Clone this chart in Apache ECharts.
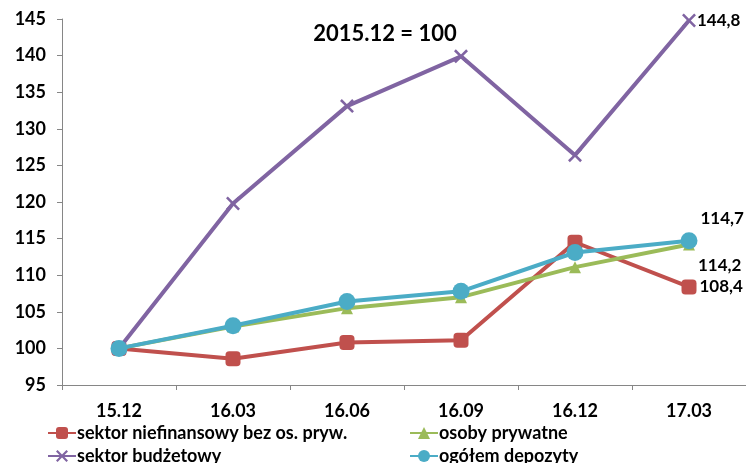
<!DOCTYPE html>
<html>
<head>
<meta charset="utf-8">
<script src="https://cdn.jsdelivr.net/npm/echarts@6/dist/echarts.min.js"></script>
<style>
  html, body { margin: 0; padding: 0; background: #fff; }
  #chart { width: 746px; height: 463px; }
</style>
</head>
<body>
<div id="chart"></div>
<script>
// Quarterly deposit indices, 2015.12 = 100
const categories = ['15.12', '16.03', '16.06', '16.09', '16.12', '17.03'];
const niefinansowy = [100, 98.6, 100.8, 101.1, 114.5, 108.4];
const prywatne = [100, 103.0, 105.5, 107.0, 111.1, 114.2];
const budzetowy = [100, 119.8, 133.1, 139.9, 126.4, 144.8];
const ogolem = [100, 103.1, 106.4, 107.8, 113.1, 114.7];
const yTicks = { min: 95, max: 145, step: 5 };

const FONT = 'Lato, "Open Sans", sans-serif';
const xShape = 'path://M0,1.3 L1.3,0 L5,3.7 L8.7,0 L10,1.3 L6.3,5 L10,8.7 L8.7,10 L5,6.3 L1.3,10 L0,8.7 L3.7,5 Z';

const fmt = v => String(v.toFixed(1)).replace('.', ',');

// Put a value label on the final point of a series
function withEndLabel(values, labelOpts) {
  return values.map((v, i) => i === values.length - 1
    ? { value: v, label: Object.assign({
        show: true, formatter: p => fmt(p.value),
        color: '#000', fontFamily: FONT, fontWeight: 'bold', fontSize: 17
      }, labelOpts) }
    : v);
}

const chart = echarts.init(document.getElementById('chart'));
chart.setOption({
  animation: false,
  textStyle: { fontFamily: FONT },
  title: {
    text: '2015.12 = 100',
    left: 380, top: 18, textAlign: 'center',
    textStyle: { fontFamily: FONT, fontWeight: 'bold', fontSize: 22, color: '#000' }
  },
  grid: { left: 62, right: 0, top: 19, bottom: 78, containLabel: false },
  xAxis: {
    type: 'category',
    data: categories,
    boundaryGap: true,
    axisLine: { lineStyle: { color: '#868686', width: 1 } },
    axisTick: { show: true, length: 5, lineStyle: { color: '#868686' } },
    axisLabel: { color: '#000', fontFamily: FONT, fontWeight: 'bold', fontSize: 18, margin: 17 }
  },
  yAxis: {
    type: 'value',
    min: yTicks.min, max: yTicks.max, interval: yTicks.step,
    splitLine: { show: false },
    axisLine: { show: true, lineStyle: { color: '#868686', width: 1 } },
    axisTick: { show: true, length: 5, lineStyle: { color: '#868686' } },
    axisLabel: { color: '#000', fontFamily: FONT, fontWeight: 'bold', fontSize: 18, margin: 16 }
  },
  legend: [
    { left: 42, top: 419, data: ['sektor niefinansowy bez os. pryw.'] },
    { left: 404, top: 419, data: ['osoby prywatne'] },
    { left: 42, top: 442, data: ['sektor budżetowy'] },
    { left: 404, top: 442, data: ['ogółem depozyty'] }
  ].map(l => Object.assign({
    orient: 'horizontal', itemWidth: 28, itemHeight: 15, itemGap: 2,
    textStyle: { color: '#000', fontFamily: FONT, fontWeight: 'bold', fontSize: 18, padding: [0, 0, 0, -4] }
  }, l)),
  series: [
    {
      name: 'sektor niefinansowy bez os. pryw.', type: 'line',
      data: withEndLabel(niefinansowy, { position: 'right', distance: 3 }),
      color: '#C0504D', lineStyle: { width: 4 },
      symbol: 'roundRect', symbolSize: 15, z: 2
    },
    {
      name: 'osoby prywatne', type: 'line',
      data: withEndLabel(prywatne, { position: 'right', distance: 3, offset: [0, 21] }),
      color: '#9BBB59', lineStyle: { width: 4 },
      symbol: 'triangle', symbolSize: 12, z: 3
    },
    {
      name: 'sektor budżetowy', type: 'line',
      data: withEndLabel(budzetowy, { position: 'right', distance: 1 }),
      color: '#8064A2', lineStyle: { width: 4 },
      symbol: xShape, symbolSize: 14, z: 4
    },
    {
      name: 'ogółem depozyty', type: 'line',
      data: withEndLabel(ogolem, { position: 'right', distance: 3, offset: [0, -22] }),
      color: '#4BACC6', lineStyle: { width: 4 },
      symbol: 'circle', symbolSize: 17, z: 5
    }
  ]
});
</script>
</body>
</html>
